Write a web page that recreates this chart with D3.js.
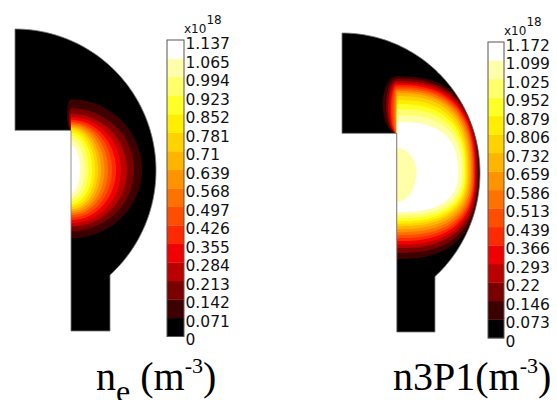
<!DOCTYPE html>
<html><head><meta charset="utf-8">
<script src="https://cdn.jsdelivr.net/npm/d3@7"></script>
<style>body{margin:0;background:#fff}svg{display:block}</style>
</head><body>
<svg id="chart" width="557" height="400"></svg>
<script>
// ---- geometry of the computational domain (mm) ----
const geomArcCenter = [0, 32.0];
const geomArcRadius = 28.2;
const geomAxisR = 11.2;
const geomStemOuterR = 19.0;
const geomStepZ = 40.0;

// ---- n_e : colorbar tick labels (x10^18 m^-3) ----
const neTickLabels = ["0","0.071","0.142","0.213","0.284","0.355","0.426","0.497","0.568","0.639","0.71","0.781","0.852","0.923","0.994","1.065","1.137"];
// contour extents of each level (mm from axis / from centre height)
const neCenterZ = 32.1;
const neRight = [14.2,12.6,11.2,10.0,9.0,8.2,7.4,6.7,6.0,5.4,4.8,4.2,3.5,2.7,1.8];
const neUp    = [14.1,12.3,11.2,10.5,10.0,9.6,9.3,9.0,8.7,8.4,8.0,7.5,6.8,6.0,4.9];
const neDown  = [13.6,12.2,11.3,10.6,10.0,9.5,9.0,8.6,8.2,7.8,7.3,6.8,6.2,5.5,4.6];
const neLeft  = [0.8,0.45,0.2,0,0,0,0,0,0,0,0,0,0,0,0];
const neShapeExp = 2.0;

// ---- n3P1 : colorbar tick labels (x10^18 m^-3) ----
const n3TickLabels = ["0","0.073","0.146","0.22","0.293","0.366","0.439","0.513","0.586","0.659","0.732","0.806","0.879","0.952","1.025","1.099","1.172"];
const n3CenterZ = 32.2;
const n3Right = [16.8,16.55,16.35,16.1,15.9,15.7,15.5,15.2,14.9,14.6,14.3,14.0,13.7,13.3,12.5];
const n3Up    = [19.3,18.8,18.3,17.9,17.5,17.1,16.7,16.3,15.9,15.3,14.5,13.7,12.7,11.5,10.1];
const n3Down  = [17.5,16.3,15.3,14.6,13.9,13.3,12.7,12.1,11.5,10.9,10.4,9.9,9.3,8.7,8.05];
const n3Left  = [2.9,2.2,1.8,1.5,1.2,0.9,0.6,0.3,0,0,0,0,0,0,0];
const n3ShapeExp = 2.6;
// central dip of n3P1
const n3DipValue = 1.06;
const n3DipRight = 4.0, n3DipUp = 4.8, n3DipDown = 6.0;

// ---- palette (hot-like, 16 bands) ----
const bandColors = ["#000000","#3c0000","#7a0000","#bb0000","#f00000","#ff2a00","#ff4e00","#ff7200","#ff9400","#ffb400","#ffd200","#ffee00","#ffff28","#ffff6a","#ffffaa","#ffffff"];

const svg = d3.select("#chart");

function domainPoints() {
  const pts = [];
  const R = geomArcRadius, c = geomArcCenter;
  const phiEnd = -Math.acos((geomStemOuterR - c[0]) / R);
  const n = 90;
  for (let i = 0; i <= n; i++) {
    const phi = Math.PI / 2 + (phiEnd - Math.PI / 2) * i / n;
    pts.push([c[0] + R * Math.cos(phi), c[1] + R * Math.sin(phi)]);
  }
  pts.push([geomStemOuterR, 0], [geomAxisR, 0], [geomAxisR, geomStepZ], [0, geomStepZ]);
  return pts;
}

function contourPoints(zc, rR, up, down, rL, p) {
  const pts = [];
  const n = 80, e = 2 / p;
  for (let i = 0; i <= n; i++) {
    const th = -Math.PI / 2 + Math.PI * i / n;
    const c = Math.cos(th), s = Math.sin(th);
    const x = rR * Math.pow(Math.abs(c), e);
    const z = zc + (s >= 0 ? up : down) * Math.sign(s) * Math.pow(Math.abs(s), e);
    pts.push([geomAxisR + x, z]);
  }
  const zTop = zc + up;
  if (rL > 0 && zTop > geomStepZ) {
    const zl = (zTop + geomStepZ) / 2, ryl = (zTop - geomStepZ) / 2;
    for (let i = 1; i <= 40; i++) {
      const th = Math.PI / 2 + Math.PI * i / 40;
      pts.push([geomAxisR + rL * Math.cos(th), zl + ryl * Math.sin(th)]);
    }
  }
  return pts;
}

function drawPanel(cfg, id) {
  const xs = d3.scaleLinear().domain([0, geomArcRadius]).range(cfg.xRange);
  const ys = d3.scaleLinear().domain([0, geomArcCenter[1] + geomArcRadius]).range(cfg.yRange);
  const line = d3.line().x(d => xs(d[0])).y(d => ys(d[1])).curve(d3.curveLinearClosed);
  const levels = cfg.ticks.slice(1, 16).map(Number);
  const color = d3.scaleThreshold().domain(levels).range(bandColors);
  const dom = domainPoints();

  svg.append("clipPath").attr("id", "clip" + id).append("path").attr("d", line(dom));
  svg.append("path").attr("d", line(dom)).attr("fill", color(0));
  const g = svg.append("g").attr("clip-path", `url(#clip${id})`);
  levels.forEach((lv, k) => {
    g.append("path")
      .attr("d", line(contourPoints(cfg.zc, cfg.right[k], cfg.up[k], cfg.down[k], cfg.left[k], cfg.exp)))
      .attr("fill", color(lv));
  });
  if (cfg.dip) {
    g.append("path")
      .attr("d", line(contourPoints(cfg.zc, cfg.dip.right, cfg.dip.up, cfg.dip.down, 0, 2)))
      .attr("fill", color(cfg.dip.value));
  }
  svg.append("path").attr("d", line(dom)).attr("fill", "none")
    .attr("stroke", "#777").attr("stroke-width", 0.8);

  // colorbar
  const yb = d3.scaleLinear().domain([0, 16]).range(cfg.barY);
  const bar = svg.append("g");
  bar.selectAll("rect").data(d3.range(16)).join("rect")
    .attr("x", cfg.barX).attr("width", cfg.barW)
    .attr("y", i => yb(i + 1)).attr("height", i => yb(i) - yb(i + 1) + 0.3)
    .attr("fill", i => bandColors[i]);
  bar.append("rect").attr("x", cfg.barX).attr("y", yb(16)).attr("width", cfg.barW)
    .attr("height", yb(0) - yb(16)).attr("fill", "none").attr("stroke", "#555").attr("stroke-width", 1);
  const ax = svg.append("g").attr("transform", `translate(${cfg.barX + cfg.barW},0)`)
    .call(d3.axisRight(yb).tickValues(d3.range(17)).tickFormat(i => cfg.ticks[i]).tickSize(0).tickPadding(1.5));
  ax.select(".domain").remove();
  ax.selectAll("text").attr("y", 3.5).attr("font-family", "DejaVu Sans, Verdana, sans-serif")
    .attr("font-size", 15.5).attr("fill", "#111");
  const mult = svg.append("text").attr("x", cfg.barX + cfg.barW).attr("y", cfg.multY)
    .attr("font-family", "DejaVu Sans, Verdana, sans-serif").attr("font-size", 12).attr("fill", "#111");
  mult.append("tspan").text("x10");
  mult.append("tspan").attr("dy", -9).attr("font-size", 12).text("18");

  // title
  const t = svg.append("text").attr("x", cfg.titleX).attr("y", 390)
    .attr("font-family", "Liberation Serif, Times New Roman, serif").attr("font-size", 40).attr("fill", "#000");
  cfg.title(t);
}

drawPanel({
  xRange: [15, 156], yRange: [331, 29],
  ticks: neTickLabels, zc: neCenterZ, right: neRight, up: neUp, down: neDown, left: neLeft, exp: neShapeExp,
  dip: null,
  barX: 167, barW: 17, barY: [336.5, 40], multY: 32.5,
  titleX: 96,
  title: t => {
    t.append("tspan").text("n");
    t.append("tspan").attr("font-size", 32).attr("dy", 12).text("e");
    t.append("tspan").attr("dy", -12).text(" (m");
    t.append("tspan").attr("font-size", 22).attr("dy", -17).text("-3");
    t.append("tspan").attr("dy", 17).text(")");
  }
}, "ne");

drawPanel({
  xRange: [342, 480], yRange: [332, 33],
  ticks: n3TickLabels, zc: n3CenterZ, right: n3Right, up: n3Up, down: n3Down, left: n3Left, exp: n3ShapeExp,
  dip: {value: n3DipValue, right: n3DipRight, up: n3DipUp, down: n3DipDown},
  barX: 488, barW: 16, barY: [338, 42], multY: 34.5,
  titleX: 393,
  title: t => {
    t.append("tspan").text("n3P1(m");
    t.append("tspan").attr("font-size", 22).attr("dy", -17).text("-3");
    t.append("tspan").attr("dy", 17).text(")");
  }
}, "n3");
</script>
</body></html>
